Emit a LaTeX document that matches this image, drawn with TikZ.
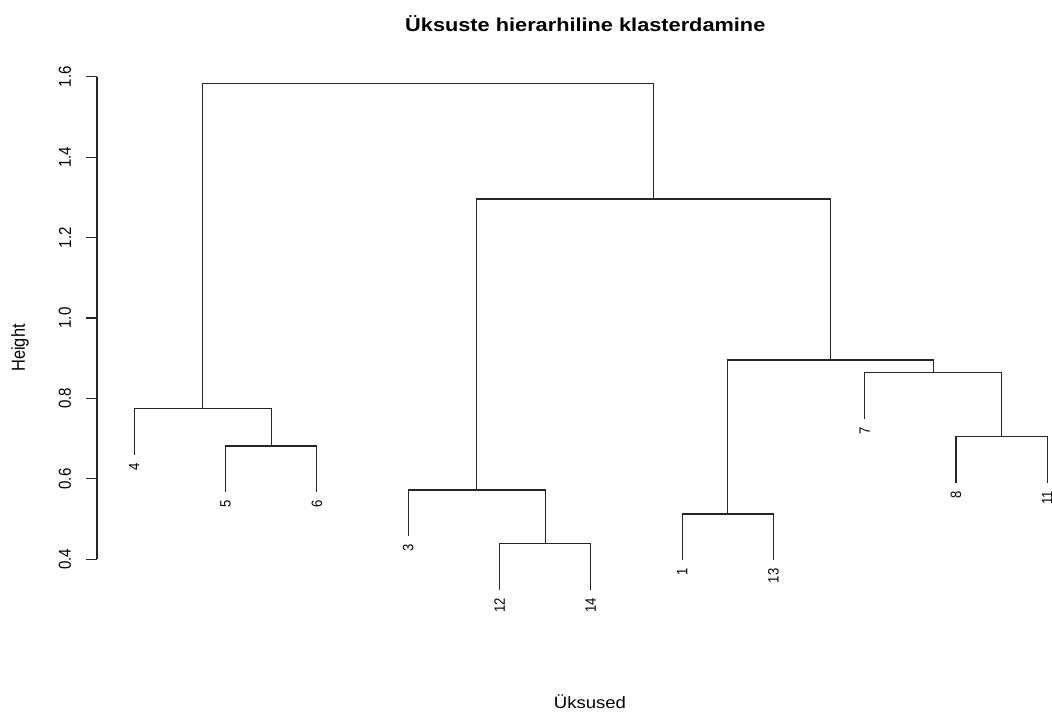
\documentclass[tikz,border=0pt]{standalone}
\usepackage{fontspec}
\setmainfont{Liberation Sans}
\begin{document}
\begin{tikzpicture}[x=0.75pt,y=-0.75pt,
  tree/.style={line width=0.85pt,line join=miter,draw=black!85},
  axisline/.style={line width=0.85pt,draw=black!85},
  leaflab/.style={rotate=90,anchor=east,inner sep=0pt,font=\fontsize{9.8}{10}\selectfont},
  ticklab/.style={rotate=90,anchor=center,inner sep=0pt,font=\fontsize{11.3}{12}\selectfont},
  axlab/.style={inner sep=0pt,font=\fontsize{12.3}{14}\selectfont},
  titlelab/.style={inner sep=0pt,anchor=base,font=\bfseries\fontsize{14}{16}\selectfont}]
\useasboundingbox[fill=white] (0,0) rectangle (1052,713);

% leaf end points
\coordinate (l4)  at (134.3,455.0);
\coordinate (l5)  at (225.6,492.3);
\coordinate (l6)  at (316.9,492.3);
\coordinate (l3)  at (408.2,536.3);
\coordinate (l12) at (499.5,589.6);
\coordinate (l14) at (590.8,589.6);
\coordinate (l1)  at (682.1,560.3);
\coordinate (l13) at (773.4,560.3);
\coordinate (l7)  at (864.7,418.6);
\coordinate (l8)  at (956.0,482.6);
\coordinate (l11) at (1047.3,482.6);

% merge points
\coordinate (m56)   at (271.25,446.0);
\coordinate (m456)  at (202.8,408.7);
\coordinate (m1214) at (545.15,543.3);
\coordinate (m3)    at (476.7,490.0);
\coordinate (m113)  at (727.75,514.0);
\coordinate (m811)  at (1001.65,436.3);
\coordinate (m7)    at (933.2,372.3);
\coordinate (mR)    at (830.5,360.0);
\coordinate (mM)    at (653.6,199.0);
\coordinate (mtop)  at (428.2,83.3);

% dendrogram
\draw[tree] (l5) |- (m56) -| (l6);
\draw[tree] (l4) |- (m456) -| (m56);
\draw[tree] (l12) |- (m1214) -| (l14);
\draw[tree] (l3) |- (m3) -| (m1214);
\draw[tree] (l1) |- (m113) -| (l13);
\draw[tree] (l8) |- (m811) -| (l11);
\draw[tree] (l7) |- (m7) -| (m811);
\draw[tree] (m113) |- (mR) -| (m7);
\draw[tree] (m3) |- (mM) -| (mR);
\draw[tree] (m456) |- (mtop) -| (mM);

% leaf labels
\node[leaflab] (t4)  at (134.3,463.0) {\scalebox{1}[1.15]{4}};
\node[leaflab] (t5)  at (225.6,500.3) {\scalebox{1}[1.15]{5}};
\node[leaflab] (t6)  at (316.9,500.3) {\scalebox{1}[1.15]{6}};
\node[leaflab] (t3)  at (408.2,544.3) {\scalebox{1}[1.15]{3}};
\node[leaflab] (t12) at (499.5,597.6) {\scalebox{1}[1.15]{12}};
\node[leaflab] (t14) at (590.8,597.6) {\scalebox{1}[1.15]{14}};
\node[leaflab] (t1)  at (682.1,568.3) {\scalebox{1}[1.15]{1}};
\node[leaflab] (t13) at (773.4,568.3) {\scalebox{1}[1.15]{13}};
\node[leaflab] (t7)  at (864.7,426.6) {\scalebox{1}[1.15]{7}};
\node[leaflab] (t8)  at (956.0,490.6) {\scalebox{1}[1.15]{8}};
\node[leaflab] (t11) at (1047.3,490.6) {\scalebox{1}[1.15]{11}};

% y axis
\draw[axisline] (97,76.7) -- (97,559.3);
\foreach \v/\yy in {0.4/559.3,0.6/478.9,0.8/398.4,1.0/318.0,1.2/237.6,1.4/157.1,1.6/76.7}{
  \draw[axisline] (86,\yy) -- (97,\yy);
  \node[ticklab] at (65,\yy) {\scalebox{1}[1.15]{\v}};
}

% titles
\node[titlelab] (title) at (585.3,31.7) {\scalebox{1.165}[1]{Üksuste hierarhiline klasterdamine}};
\node[axlab,anchor=base] (xlab) at (590,708) {\scalebox{1.13}[1]{Üksused}};
\node[axlab,rotate=90] (ylab) at (20,348) {\scalebox{1}[1.15]{Height}};
\end{tikzpicture}
\end{document}
